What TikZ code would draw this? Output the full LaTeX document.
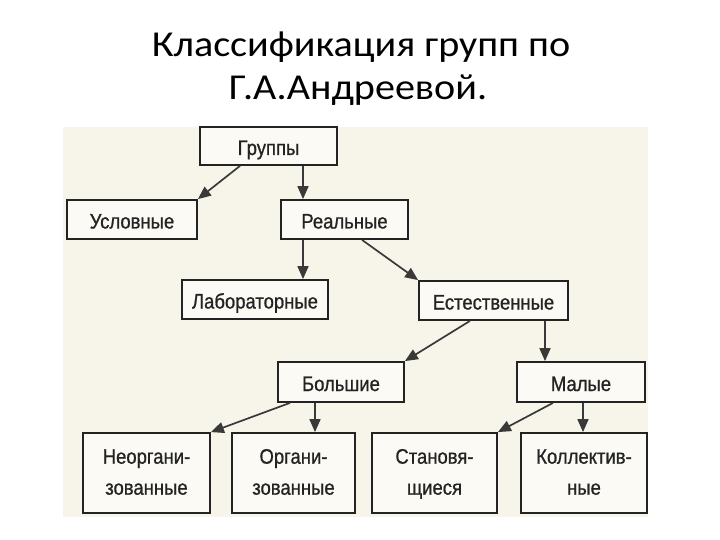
\documentclass[tikz,border=0pt]{standalone}
\usepackage{fontspec}
\setmainfont{Carlito}
\newfontfamily\titlefont[FakeStretch=1.1]{Carlito}
\newfontfamily\boxfont[FakeStretch=0.88,FakeBold=0.8]{Liberation Sans}
\usetikzlibrary{calc,arrows.meta}
\definecolor{paper}{RGB}{247,245,234}
\definecolor{boxfill}{RGB}{251,250,244}
\definecolor{ink}{RGB}{35,35,35}
\tikzset{
	box/.style={draw=ink,line width=1.8pt,fill=boxfill,inner sep=0pt,
		font=\boxfont\fontsize{21}{31}\selectfont,text=ink,align=center},
	onebox/.style={box,minimum height=39pt,text height=18pt,text depth=0pt},
	twobox/.style={box,minimum height=80pt},
	arr/.style={draw=ink!90,line width=1.7pt,-{Triangle[width=11pt,length=13pt]}}
}

\begin{document}
\begin{tikzpicture}[x=1pt,y=-1pt]
	\useasboundingbox (0,0) rectangle (720,540);
	\fill[paper] (63,127) rectangle (648,517);
	\node[anchor=base,font=\titlefont\fontsize{36.5}{43}\selectfont] (title1) at (361,57) {Классификация групп по};
	\node[anchor=base,font=\titlefont\fontsize{36.5}{43}\selectfont] (title2) at (358,100) {Г.А.Андреевой.};
	\node[onebox,minimum width=137pt,minimum height=38pt] (grp) at (268.5,146) {Группы};
	\node[onebox,minimum width=130pt] (usl) at (132,219.5) {Условные};
	\node[onebox,minimum width=127pt] (real) at (344.5,219.5) {Реальные};
	\node[onebox,minimum width=146pt] (lab) at (255,299.5) {Лабораторные};
	\node[onebox,minimum width=149pt] (est) at (493.5,300.5) {Естественные};
	\node[onebox,minimum width=126pt,minimum height=40pt] (big) at (341,382) {Большие};
	\node[onebox,minimum width=128pt,minimum height=40pt] (small) at (581,382) {Малые};
	\node[twobox,minimum width=127pt] (neorg) at (146.5,473) {\strut Неоргани-\\\strut зованные};
	\node[twobox,minimum width=123pt] (org) at (293.5,473) {\strut Органи-\\\strut зованные};
	\node[twobox,minimum width=125pt] (stan) at (434.5,473) {\strut Становя-\\\strut щиеся};
	\node[twobox,minimum width=126pt] (koll) at (584,473) {\strut Коллектив-\\\strut ные};
	\draw[arr] ([xshift=-28.5pt]grp.south) -- (usl.north east);
	\draw[arr] ([xshift=34.5pt]grp.south) -- ([xshift=-41.5pt]real.north);
	\draw[arr] ([xshift=-41.5pt]real.south) -- ([xshift=48pt]lab.north);
	\draw[arr] ([xshift=17.5pt]real.south) -- (est.north west);
	\draw[arr] ([xshift=-23.5pt]est.south) -- (big.north east);
	\draw[arr] ([xshift=51.5pt]est.south) -- ([xshift=-36pt]small.north);
	\draw[arr] ([xshift=-51pt]big.south) -- (neorg.north east);
	\draw[arr] ([xshift=-26pt]big.south) -- ([xshift=21.5pt]org.north);
	\draw[arr] ([xshift=-28pt]small.south) -- (stan.north east);
	\draw[arr] ([xshift=2pt]small.south) -- ([xshift=-1pt]koll.north);
\end{tikzpicture}
\end{document}
